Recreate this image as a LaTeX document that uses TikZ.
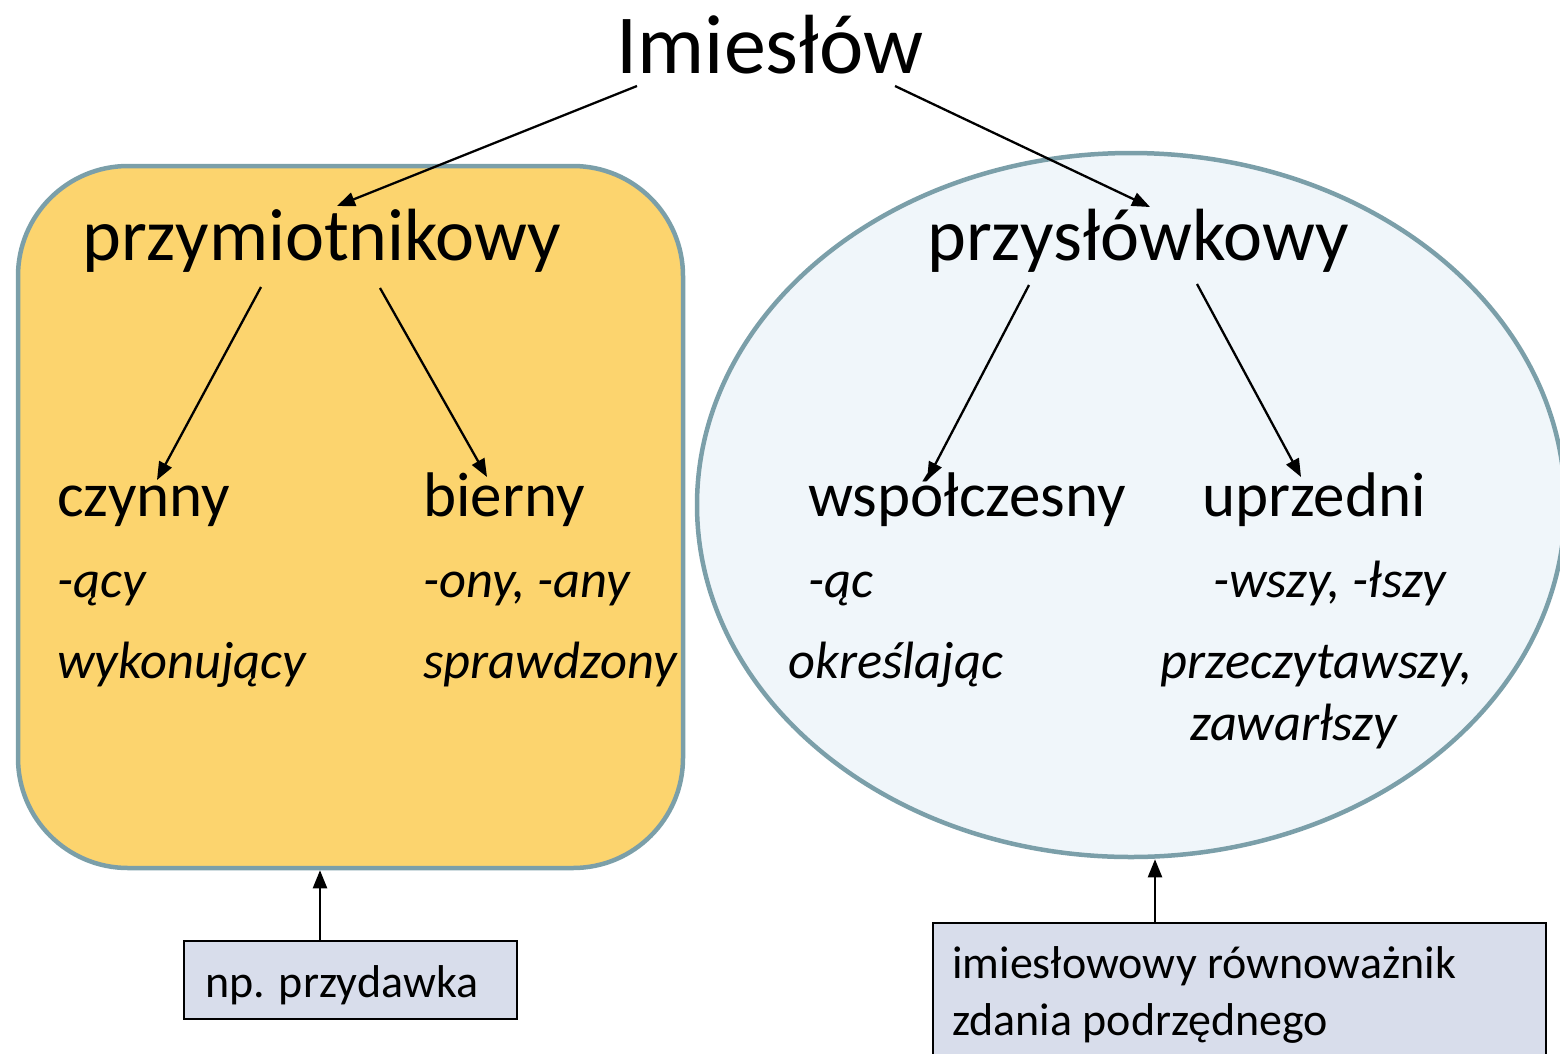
\documentclass[tikz,border=0pt]{standalone}
\usepackage{fontspec}
\setmainfont{Carlito}
\usetikzlibrary{shapes.geometric,arrows.meta}
\definecolor{yel}{HTML}{FCD46E}
\definecolor{pale}{HTML}{F0F6FA}
\definecolor{edge}{HTML}{7B9FA9}
\definecolor{lav}{HTML}{D8DDEB}
\tikzset{
  lbl/.style={anchor=base west, inner sep=0pt},
  big/.style={font=\fontsize{74}{78}\selectfont},
  mid/.style={font=\fontsize{63}{67}\selectfont},
  ita/.style={font=\fontsize{52.5}{56}\selectfont\itshape},
  small/.style={font=\fontsize{46}{50}\selectfont},
  arr/.style={-{Triangle[length=18pt,width=14pt]}, line width=2.3pt},
  shp/.style={draw=edge, line width=4.5pt},
  notebox/.style={draw=black, line width=2pt, fill=lav, inner sep=0pt},
}
\begin{document}
\begin{tikzpicture}[x=1pt,y=-1pt]
\useasboundingbox (0,0) rectangle (1560,1053);
% containers
\node[shp, fill=yel, rounded corners=110pt, minimum width=665pt, minimum height=702pt, inner sep=0pt] (ybox) at (350.5,517) {};
\node[shp, fill=pale, ellipse, minimum width=868pt, minimum height=704pt, inner sep=0pt] (ell) at (1131,505) {};
% note boxes
\node[notebox, anchor=north west, minimum width=333pt, minimum height=78pt] (npbox) at (183,940) {};
\node[notebox, anchor=north west, minimum width=613pt, minimum height=160pt] (rbox) at (932,922) {};
% texts
\node[anchor=base, inner sep=0pt, font=\fontsize{84}{88}\selectfont] (imies) at (770,73) {Imiesłów};
\node[lbl, big] (przym) at (82,260) {przymiotnikowy};
\node[lbl, big] (przys) at (927,260) {przysłówkowy};
\node[lbl, mid] (czyn) at (57,516) {czynny};
\node[lbl, mid] (bier) at (423,516) {bierny};
\node[lbl, mid] (wspol) at (808,516) {współczesny};
\node[lbl, mid] (uprz) at (1202,516) {uprzedni};
\node[lbl, ita] (acy) at (57,597) {-ący};
\node[lbl, ita] (ony) at (423,597) {-ony, -any};
\node[lbl, ita] (ac) at (808,597) {-ąc};
\node[lbl, ita] (wszy) at (1213,597) {-wszy, -łszy};
\node[lbl, ita] (wyk) at (57,678) {wykonujący};
\node[lbl, ita] (spr) at (423,678) {sprawdzony};
\node[lbl, ita] (okr) at (788,678) {określając};
\node[lbl, ita] (przecz) at (1160,678) {przeczytawszy,};
\node[lbl, ita] (zaw) at (1190,740) {zawarłszy};
\node[lbl, small] (np) at (205,997) {np. przydawka};
\node[lbl, small] (rown) at (952,978) {imiesłowowy równoważnik};
\node[lbl, small] (zdan) at (952,1035) {zdania podrzędnego};
% arrow end points
\coordinate (a1s) at (637,86);   \coordinate (a1e) at (337,206);
\coordinate (a2s) at (895,86);   \coordinate (a2e) at (1150,207);
\coordinate (a3s) at (261,287);  \coordinate (a3e) at (157,480);
\coordinate (a4s) at (380,288);  \coordinate (a4e) at (487,477);
\coordinate (a5s) at (1029,285); \coordinate (a5e) at (927,480);
\coordinate (a6s) at (1197,284); \coordinate (a6e) at (1301,477);
\coordinate (vl) at (320,0);
\coordinate (vr) at (1155,0);
\draw[arr] (a1s) -- (a1e);
\draw[arr] (a2s) -- (a2e);
\draw[arr] (a3s) -- (a3e);
\draw[arr] (a4s) -- (a4e);
\draw[arr] (a5s) -- (a5e);
\draw[arr] (a6s) -- (a6e);
\draw[arr] (npbox.north -| vl) -- (ybox.south -| vl);
\draw[arr] (rbox.north -| vr) -- (ell.south -| vr);
\end{tikzpicture}
\end{document}
